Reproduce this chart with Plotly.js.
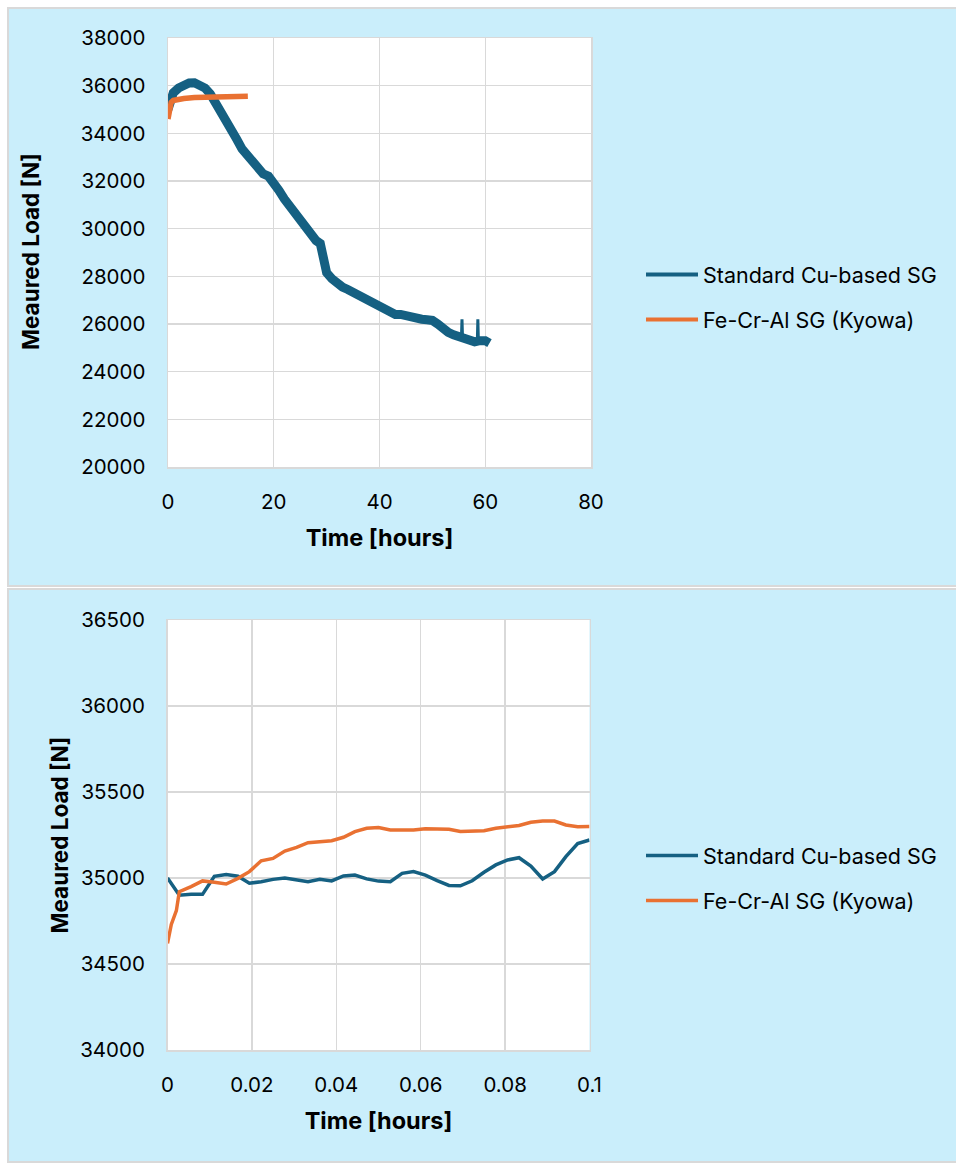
<!DOCTYPE html>
<html><head><meta charset="utf-8">
<script src="https://cdn.plot.ly/plotly-3.0.1.min.js"></script>
<style>html,body{margin:0;padding:0;background:#fff}#chart{width:956px;height:1164px}</style>
</head><body><div id="chart"></div>
<script>
// ---- Top chart: full test (hours) ----
const cuTime = [0, 0.5, 1, 2, 3, 4, 5, 6, 7, 8, 9, 10, 11, 12, 13, 14, 15, 16, 17, 18, 19, 20, 21, 22, 23, 24, 25, 26, 27, 28, 28.8, 29.2, 29.6, 30, 31, 32, 33, 34, 35, 36, 37, 38, 39, 40, 41, 42, 43, 44, 45, 46, 47, 48, 49, 50, 51, 52, 53, 54, 55, 56, 57, 58, 59, 60, 60.8];
const cuLoad = [35000, 35450, 35700, 35900, 36050, 36110, 36120, 36050, 35900, 35650, 35300, 34950, 34600, 34250, 33750, 33350, 33050, 32750, 32500, 32300, 32200, 31950, 31600, 31250, 30950, 30700, 30300, 30000, 29750, 29500, 29380, 28900, 28400, 28150, 27900, 27700, 27550, 27450, 27330, 27200, 27100, 27000, 26900, 26780, 26650, 26550, 26400, 26400, 26330, 26260, 26230, 26200, 26180, 26150, 26000, 25800, 25650, 25550, 25480, 25400, 25300, 25250, 25300, 25300, 25200];
const cuSpikeTime = [55.5, 55.6, 55.7, null, 58.5, 58.6, 58.7];
const cuSpikeLoad = [25450, 26200, 25450, null, 25250, 26200, 25300];
const feTime = [0, 0.3, 0.6, 1, 2, 3, 5, 8, 11, 15.1];
const feLoad = [34600, 35150, 35300, 35380, 35430, 35460, 35500, 35530, 35550, 35560];

// ---- Bottom chart: first 0.1 hours ----
const cuTimeShort = [0, 0.0028, 0.0056, 0.0083, 0.0111, 0.0139, 0.0167, 0.0194, 0.0222, 0.025, 0.0278, 0.0306, 0.0333, 0.0361, 0.0389, 0.0417, 0.0444, 0.0472, 0.05, 0.0528, 0.0556, 0.0583, 0.0611, 0.0639, 0.0667, 0.0694, 0.0722, 0.075, 0.0778, 0.0806, 0.0833, 0.0861, 0.0889, 0.0917, 0.0944, 0.0972, 0.1];
const cuLoadShort = [35000, 34900, 34905, 34905, 35010, 35020, 35010, 34970, 34978, 34992, 35000, 34990, 34978, 34993, 34983, 35012, 35017, 34995, 34982, 34978, 35027, 35037, 35017, 34985, 34957, 34955, 34984, 35033, 35076, 35105, 35118, 35070, 34994, 35037, 35124, 35200, 35221];
const feTimeShort = [0, 0.0009, 0.0021, 0.0028, 0.0056, 0.0083, 0.0111, 0.0139, 0.0167, 0.0194, 0.0222, 0.025, 0.0278, 0.0306, 0.0333, 0.0361, 0.0389, 0.0417, 0.0444, 0.0472, 0.05, 0.0528, 0.0556, 0.0583, 0.0611, 0.0639, 0.0667, 0.0694, 0.0722, 0.075, 0.0778, 0.0806, 0.0833, 0.0861, 0.0889, 0.0917, 0.0944, 0.0972, 0.1];
const feLoadShort = [34620, 34730, 34810, 34920, 34950, 34983, 34975, 34965, 34998, 35037, 35100, 35114, 35157, 35178, 35205, 35209, 35217, 35237, 35270, 35289, 35293, 35279, 35279, 35279, 35287, 35285, 35283, 35270, 35270, 35275, 35289, 35295, 35305, 35324, 35331, 35331, 35308, 35298, 35300];

const seriesNames = ['Standard Cu-based SG', 'Fe-Cr-Al SG (Kyowa)'];
const xTitle = 'Time [hours]';
const yTitle = 'Meaured Load [N]';

const BLUE = '#156082', ORANGE = '#E97132';
const W = 956, H = 1164;
const px = v => v / W, py = v => 1 - v / H;
const FONT = 'Inter, "Liberation Sans", Arial, sans-serif';

const traces = [
  {x: cuTime, y: cuLoad, mode: 'lines', line: {color: BLUE, width: 9}, xaxis: 'x', yaxis: 'y', showlegend: false},
  {x: cuSpikeTime, y: cuSpikeLoad, mode: 'lines', line: {color: BLUE, width: 3}, xaxis: 'x', yaxis: 'y', showlegend: false, connectgaps: false},
  {x: feTime, y: feLoad, mode: 'lines', line: {color: ORANGE, width: 5.5}, xaxis: 'x', yaxis: 'y', showlegend: false},
  // legend entries for the top chart
  {x: [null], y: [null], name: seriesNames[0], mode: 'lines', line: {color: BLUE, width: 4}, xaxis: 'x', yaxis: 'y', legend: 'legend', legendgroup: 'a'},
  {x: [null], y: [null], name: seriesNames[1], mode: 'lines', line: {color: ORANGE, width: 4}, xaxis: 'x', yaxis: 'y', legend: 'legend', legendgroup: 'b'},
  {x: cuTimeShort, y: cuLoadShort, name: seriesNames[0], mode: 'lines', line: {color: BLUE, width: 3.5}, xaxis: 'x2', yaxis: 'y2', legend: 'legend2', legendgroup: 'c'},
  {x: feTimeShort, y: feLoadShort, name: seriesNames[1], mode: 'lines', line: {color: ORANGE, width: 3.5}, xaxis: 'x2', yaxis: 'y2', legend: 'legend2', legendgroup: 'd'}
];

function xa(domain, range, dtick, anchor) {
  return {domain, range, dtick, anchor, showgrid: true, gridcolor: '#D9D9D9', gridwidth: 1.3,
    showline: true, linecolor: '#D9D9D9', linewidth: 1.5, mirror: true, zeroline: false, ticks: '',
    ticklabelstandoff: 16, tickfont: {size: 20.5, family: FONT, color: '#000'}, automargin: false,
    title: {text: xTitle, font: {size: 23.5, family: FONT, weight: 'bold', color: '#000'}, standoff: 16}};
}
function ya(domain, range, dtick, anchor) {
  return {domain, range, dtick, anchor, tickformat: 'd', showgrid: true, gridcolor: '#D9D9D9', gridwidth: 1.3,
    showline: true, linecolor: '#D9D9D9', linewidth: 1.5, mirror: true, zeroline: false, ticks: '',
    ticklabelstandoff: 17, tickfont: {size: 20.5, family: FONT, color: '#000'}, automargin: false};
}

const legendCommon = {xanchor: 'left', yanchor: 'middle', bgcolor: 'rgba(0,0,0,0)', borderwidth: 0,
  font: {size: 21.5, family: FONT, color: '#000'}, traceorder: 'grouped', tracegroupgap: 14, itemwidth: 52};

const yTitleFont = {size: 22.5, family: FONT, weight: 'bold', color: '#000'};

const layout = {
  width: W, height: H, margin: {l: 0, r: 0, t: 0, b: 0},
  paper_bgcolor: '#ffffff', plot_bgcolor: 'rgba(0,0,0,0)',
  font: {family: FONT, size: 19, color: '#000'},
  showlegend: true, hovermode: false,
  shapes: [
    {type: 'rect', xref: 'paper', yref: 'paper', x0: px(8), x1: px(960), y0: py(586), y1: py(8), fillcolor: '#CAEEFB', line: {color: '#D9D9D9', width: 2}, layer: 'below'},
    {type: 'rect', xref: 'paper', yref: 'paper', x0: px(8), x1: px(960), y0: py(1162), y1: py(589), fillcolor: '#CAEEFB', line: {color: '#D9D9D9', width: 2}, layer: 'below'},
    {type: 'rect', xref: 'paper', yref: 'paper', x0: px(168), x1: px(591), y0: py(467), y1: py(38), fillcolor: '#ffffff', line: {width: 0}, layer: 'below'},
    {type: 'rect', xref: 'paper', yref: 'paper', x0: px(167.5), x1: px(589.5), y0: py(1050), y1: py(620), fillcolor: '#ffffff', line: {width: 0}, layer: 'below'}
  ],
  annotations: [
    {text: yTitle, xref: 'paper', yref: 'paper', x: px(30), y: py(252), textangle: -90, showarrow: false, xanchor: 'center', yanchor: 'middle', font: yTitleFont},
    {text: yTitle, xref: 'paper', yref: 'paper', x: px(58.5), y: py(835), textangle: -90, showarrow: false, xanchor: 'center', yanchor: 'middle', font: yTitleFont}
  ],
  xaxis: xa([px(168), px(591)], [0, 80], 20, 'y'),
  yaxis: ya([py(467), py(38)], [20000, 38000], 2000, 'x'),
  xaxis2: xa([px(167.5), px(589.5)], [0, 0.1], 0.02, 'y2'),
  yaxis2: ya([py(1050), py(620)], [34000, 36500], 500, 'x2'),
  legend: Object.assign({x: px(641), y: py(297)}, legendCommon),
  legend2: Object.assign({x: px(641), y: py(878)}, legendCommon)
};

Plotly.newPlot('chart', traces, layout, {displayModeBar: false, staticPlot: true});
</script>
</body></html>
